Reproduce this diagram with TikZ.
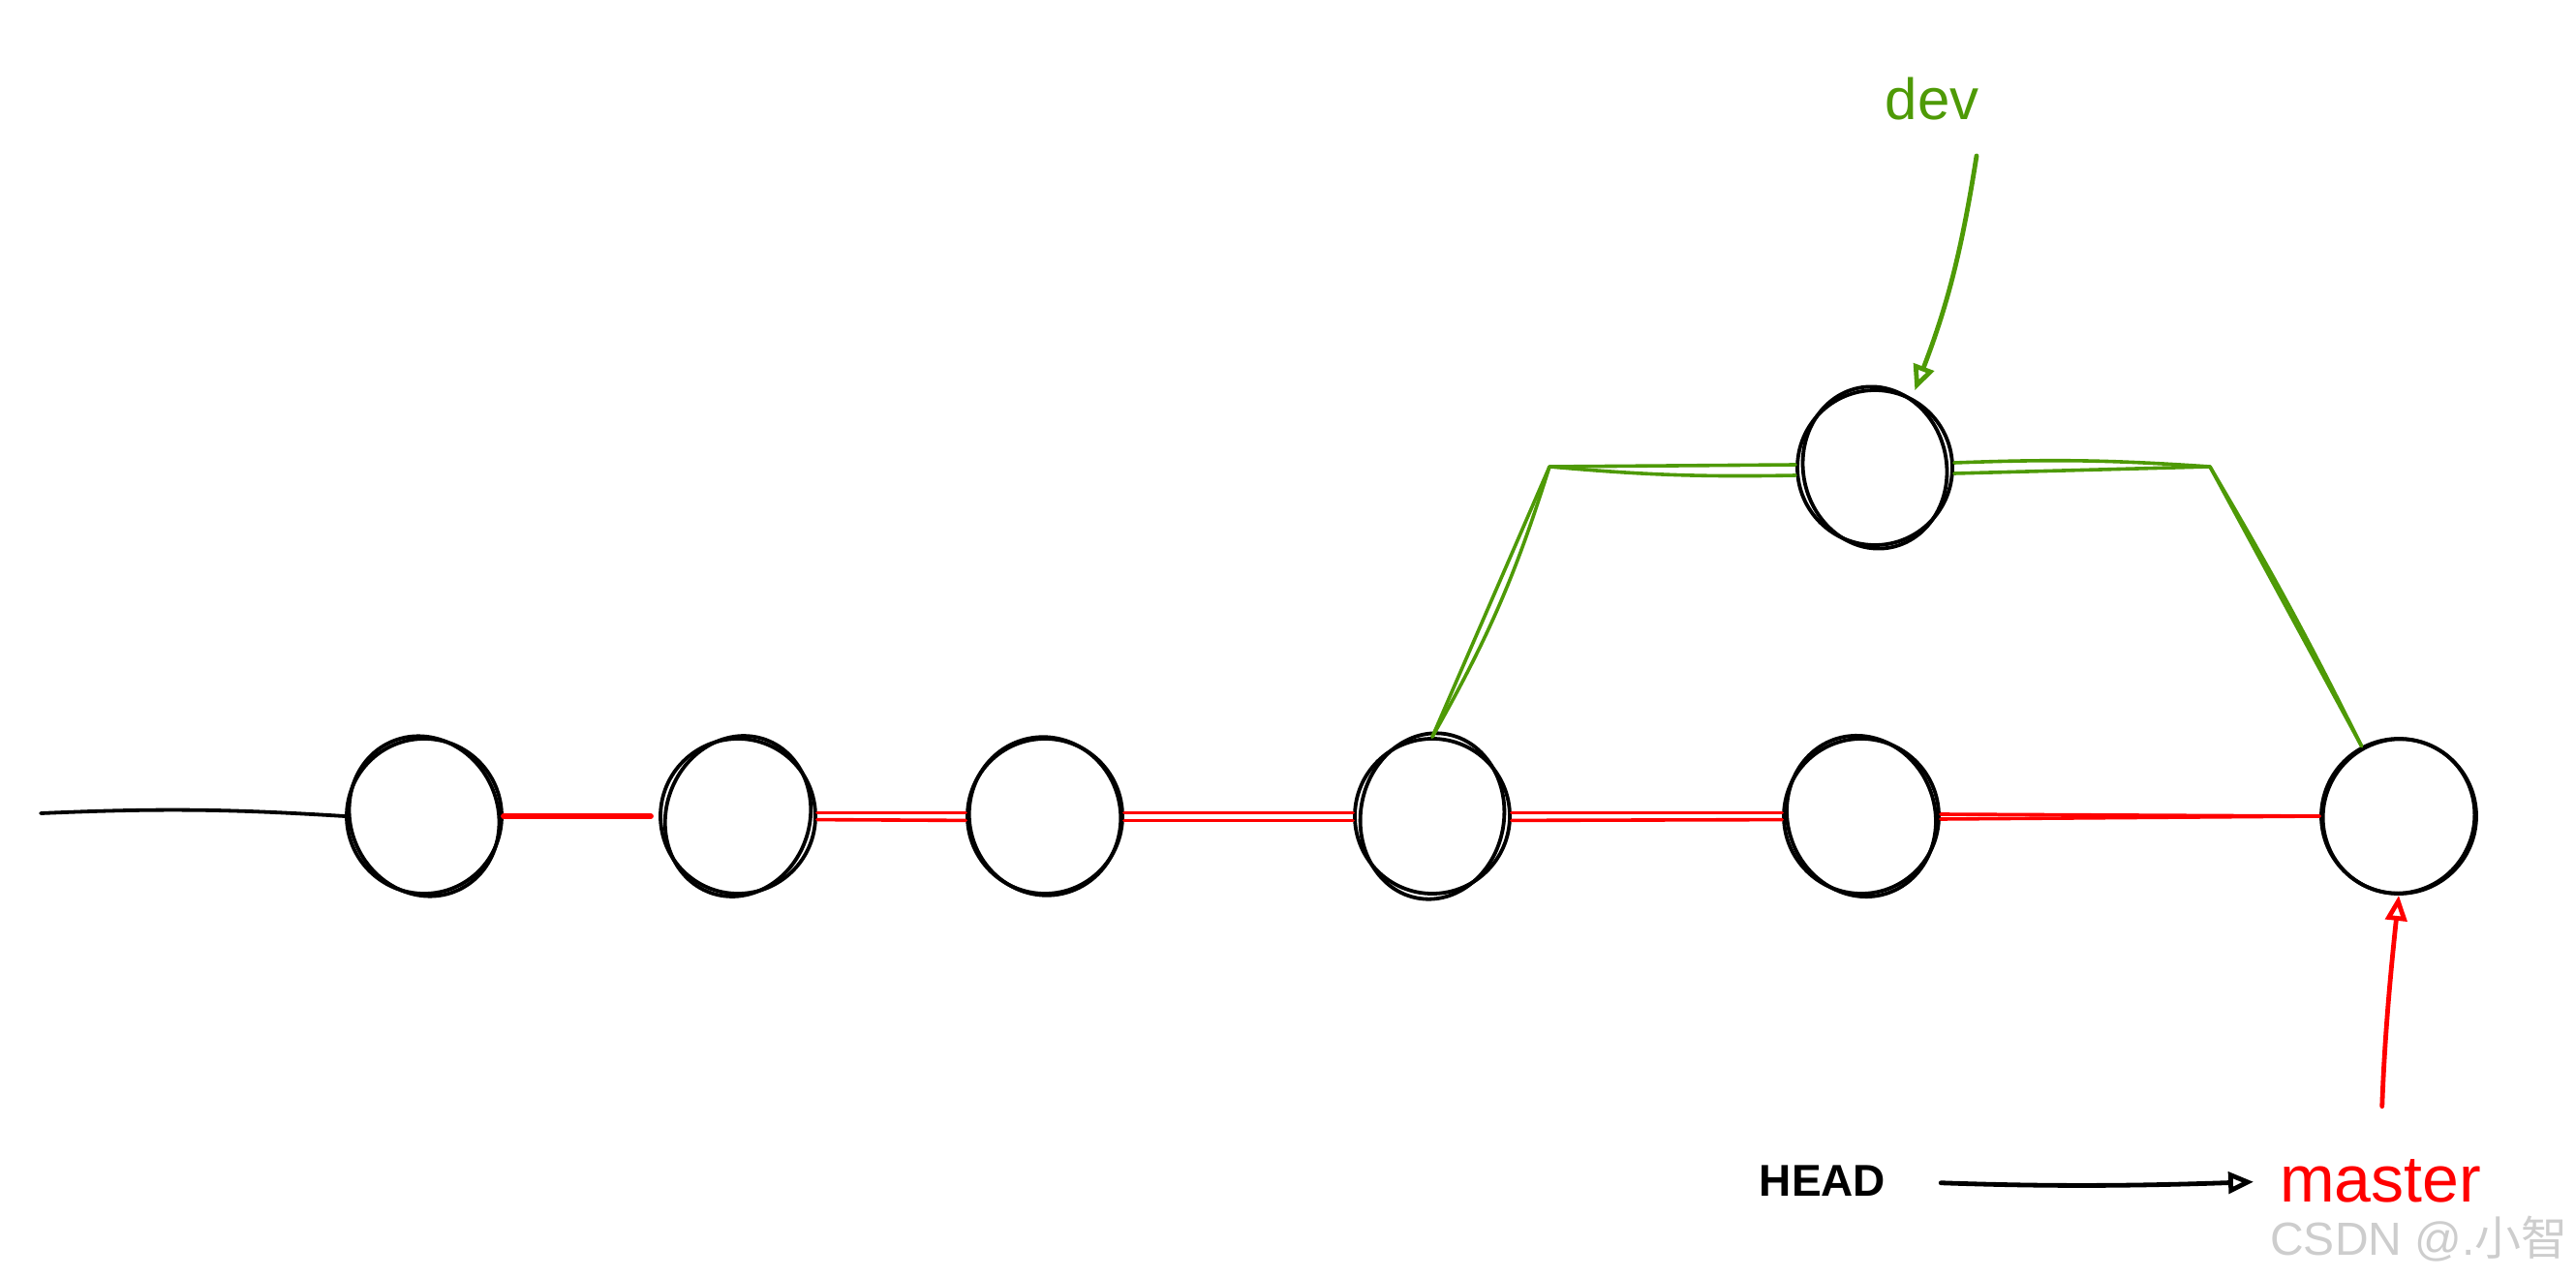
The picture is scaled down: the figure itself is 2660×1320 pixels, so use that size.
\documentclass[tikz,border=0pt]{standalone}
\usepackage{fontspec}
\setmainfont{Liberation Sans}
\newfontfamily\cjkfont{Noto Sans CJK SC}
\usetikzlibrary{arrows.meta}
\definecolor{devgreen}{RGB}{78,154,6}
\definecolor{markgray}{RGB}{205,205,205}

\begin{document}
\begin{tikzpicture}[x=0.5pt, y=-0.5pt, line cap=round, line join=round,
  commit/.style={draw, circle, line width=1.9pt, minimum size=80pt, inner sep=0pt},
  sketch/.style={line width=1.9pt},
  redline/.style={red, line width=1.8pt},
  greenline/.style={devgreen, line width=1.8pt},
  tip/.style={-{Triangle[open, length=13pt, width=11pt]}}]
  \useasboundingbox (0,0) rectangle (2660,1320);

  % commits on master
  \node[commit] (c1) at (438,843) {};
  \node[commit] (c2) at (762,843) {};
  \node[commit] (c3) at (1079,843) {};
  \node[commit] (c4) at (1479,843) {};
  \node[commit] (c5) at (1922,843) {};
  \node[commit] (c6) at (2477,843) {};
  % commit on dev
  \node[commit] (top) at (1936,483) {};

  % second pencil strokes
  \draw[sketch] (c1.center) ellipse [x radius=38pt, y radius=42pt, rotate=25];
  \draw[sketch] (c2.center) ellipse [x radius=37pt, y radius=42pt, rotate=-20];
  \draw[sketch] (c3.center) ellipse [x radius=39pt, y radius=41pt, rotate=15];
  \draw[sketch] (c4.center) ellipse [x radius=37pt, y radius=43pt, rotate=-10];
  \draw[sketch] (c5.center) ellipse [x radius=38pt, y radius=42pt, rotate=20];
  \draw[sketch] (c6.center) ellipse [x radius=39pt, y radius=40pt, rotate=-25];
  \draw[sketch] (top.center) ellipse [x radius=37pt, y radius=42pt, rotate=12];

  \coordinate (tail) at (42,840);
  \draw[sketch] (tail) to[bend left=3] (c1.west);

  \draw[redline, line width=2.8pt] (c1.east) -- ([xshift=-4pt]c2.west);
  \draw[redline] ([yshift=1.8pt]c2.east) -- ([yshift=1.8pt]c3.west);
  \draw[redline] ([yshift=-1.8pt]c2.east) -- ([yshift=-2.2pt]c3.west);
  \draw[redline] ([yshift=1.8pt]c3.east) -- ([yshift=1.8pt]c4.west);
  \draw[redline] ([yshift=-2.2pt]c3.east) -- ([yshift=-2.2pt]c4.west);
  \draw[redline] ([yshift=1.8pt]c4.east) -- ([yshift=1.8pt]c5.west);
  \draw[redline] ([yshift=-2.2pt]c4.east) -- ([yshift=-1.8pt]c5.west);
  \draw[redline] ([yshift=1pt]c5.east) -- (c6.west);
  \draw[redline] ([yshift=-1.5pt]c5.east) -- (c6.west);

  % dev branch
  \coordinate (fork) at (1600,482);
  \coordinate (join) at (2282,482);
  \draw[greenline] (c4.north) -- (fork) -- ([yshift=1.5pt]top.west);
  \draw[greenline] (c4.north) to[bend right=6] (fork) to[bend right=3] ([yshift=-4pt]top.west);
  \draw[greenline] ([yshift=2.5pt]top.east) to[bend left=3] (join) -- (c6.118);
  \draw[greenline] ([yshift=-3pt]top.east) -- (join) to[bend left=2] (c6.118);

  \node[devgreen, font=\fontsize{30}{36}\selectfont] (dev) at (1995,102) {dev};
  \coordinate (devtail) at (2041,161);
  \draw[greenline, line width=2.4pt, tip, shorten >=4pt] (devtail) to[bend left=6] (top.62);

  \node[red, font=\fontsize{34}{40}\selectfont] (master) at (2458,1220) {master};
  \draw[redline, line width=2.4pt, tip, shorten <=24pt] (master.north) to[bend left=2] (c6.south);

  \node[font=\bfseries\fontsize{23}{28}\selectfont] (head) at (1882,1220) {HEAD};
  \draw[sketch, line width=2.4pt, tip, shorten <=25pt, shorten >=10pt] (head.east) to[bend right=2] (master.west);

  \node[markgray, font=\fontsize{24}{28}\selectfont] (mark) at (2498,1280) {CSDN @.{\cjkfont 小智}};
\end{tikzpicture}
\end{document}
